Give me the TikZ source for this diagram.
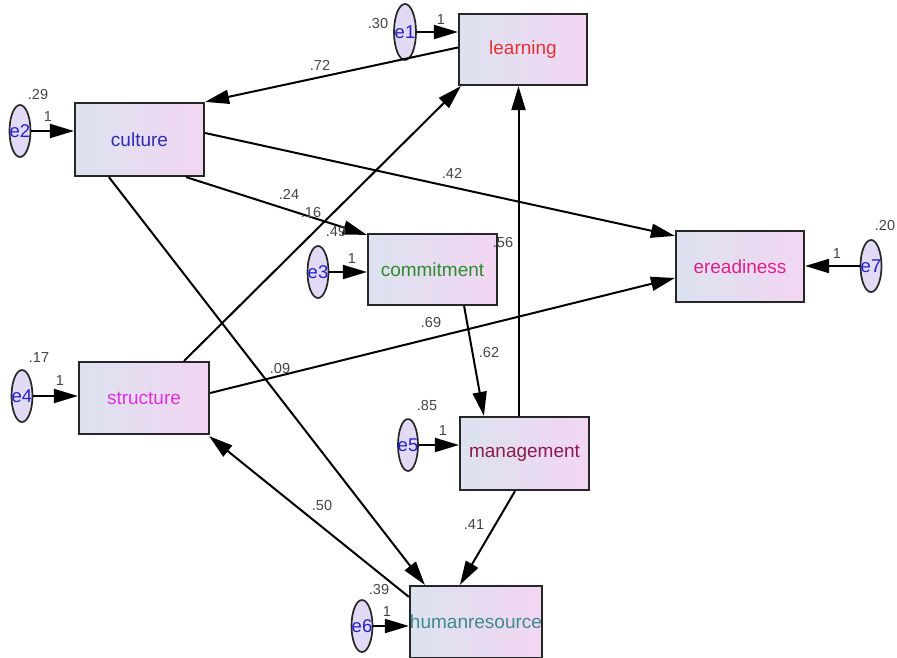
\documentclass[tikz,border=0pt]{standalone}
\usepackage{fontspec}
\setmainfont{Liberation Sans}
\usetikzlibrary{shapes.geometric,arrows.meta}
\definecolor{boxL}{HTML}{DCE2EF}
\definecolor{boxR}{HTML}{F2D6F2}
\definecolor{ellfill}{HTML}{E2DAF4}
\definecolor{eblue}{HTML}{2222CC}
\definecolor{numgray}{HTML}{444444}
\definecolor{cLearn}{HTML}{E53035}
\definecolor{cCult}{HTML}{2D2DB0}
\definecolor{cComm}{HTML}{2E8B2E}
\definecolor{cEread}{HTML}{E0208A}
\definecolor{cStruct}{HTML}{E030E0}
\definecolor{cMan}{HTML}{8B1A50}
\definecolor{cHR}{HTML}{3F8A8A}
\begin{document}
\begin{tikzpicture}[x=1pt,y=-1pt,
  box/.style={rectangle,draw=black!85,line width=2.2pt,left color=boxL,right color=boxR,
    minimum width=129pt,minimum height=72pt,inner sep=0pt,font=\fontsize{19}{19}\selectfont},
  err/.style={ellipse,draw=black!85,line width=1.7pt,fill=ellfill,minimum width=21pt,
    minimum height=52pt,inner sep=0pt},
  elab/.style={inner sep=0pt,text=eblue,font=\fontsize{18.5}{18.5}\selectfont},
  num/.style={inner sep=0pt,text=numgray,font=\fontsize{14.5}{14.5}\selectfont},
  arr/.style={line width=2pt,draw=black,-{Triangle[length=24pt,width=14pt]}}
]
\useasboundingbox (0,0) rectangle (897,658);
\clip (0,0) rectangle (897,658);
\fill[white] (0,0) rectangle (897,658);

% boxes
\node[box,text=cLearn,minimum width=128pt,minimum height=71pt] (learning) at (523,49.5) {learning};
\node[box,text=cCult,minimum height=73pt] (culture) at (139.5,139.5) {culture};
\node[box,text=cComm,minimum height=71pt] (commitment) at (432.5,269.5) {commitment};
\node[box,text=cEread,minimum width=128pt,minimum height=71pt] (ereadiness) at (740,266.5) {ereadiness};
\node[box,text=cStruct,minimum width=130pt] (structure) at (144,398) {structure};
\node[box,text=cMan,minimum height=73pt] (management) at (524.5,453.5) {management};
\node[box,text=cHR,minimum width=130pt] (humanresource) at (476,622) {humanresource};

% error ellipses
\node[err,minimum width=22pt,minimum height=56pt] (e1) at (405,32) {};
\node[err] (e2) at (20,131) {};
\node[err] (e3) at (318,272) {};
\node[err] (e7) at (871,266) {};
\node[err] (e4) at (22,396) {};
\node[err,minimum width=20pt] (e5) at (408,445) {};
\node[err] (e6) at (362,626) {};
\node[elab] (l1) at (e1) {e1};
\node[elab] (l2) at (e2) {e2};
\node[elab] (l3) at (e3) {e3};
\node[elab] (l7) at (e7) {e7};
\node[elab] (l4) at (e4) {e4};
\node[elab] (l5) at (e5) {e5};
\node[elab] (l6) at (e6) {e6};

% error arrows
\draw[arr] (e1.east) -- (e1.east -| learning.west);
\draw[arr] (e2.east) -- (e2.east -| culture.west);
\draw[arr] (e3.east) -- (e3.east -| commitment.west);
\draw[arr] (e7.west) -- (e7.west -| ereadiness.east);
\draw[arr] (e4.east) -- (e4.east -| structure.west);
\draw[arr] (e5.east) -- (e5.east -| management.west);
\draw[arr] (e6.east) -- (e6.east -| humanresource.west);

% structural paths
\draw[arr] ([yshift=2pt]learning.west) -- (culture.north east);
\draw[arr] ([yshift=6.5pt]culture.east) -- ([yshift=-6pt]ereadiness.north west);
\draw[arr] ([xshift=-19pt]culture.south east) -- ([yshift=-2pt]commitment.north west);
\draw[arr] ([xshift=35pt]culture.south west) -- ([xshift=16pt]humanresource.north west);
\draw[arr] ([xshift=-26pt]structure.north east) -- ([xshift=3pt]learning.south west);
\draw[arr] ([yshift=5pt]structure.east) -- ([yshift=-11.5pt]ereadiness.west);
\draw[arr] ([xshift=-34pt]commitment.south east) -- ([xshift=25pt]management.north west);
\draw[arr] ([xshift=-6pt]management.north) -- ([xshift=-6pt]management.north |- learning.south);
\draw[arr] ([xshift=-9.5pt]management.south) -- ([xshift=51pt]humanresource.north west);
\draw[arr] ([yshift=-12pt]humanresource.north west) -- ([xshift=-1pt,yshift=-1pt]structure.south east);

% variance labels
\node[num] (v1) at (378,24) {.30};
\node[num] (w1) at (441,20) {1};
\node[num] (v2) at (38,95) {.29};
\node[num] (w2) at (48,117) {1};
\node[num] (v3) at (336,232) {.49};
\node[num] (w3) at (352,259) {1};
\node[num] (v7) at (885,226) {.20};
\node[num] (w7) at (837,254) {1};
\node[num] (v4) at (39,358) {.17};
\node[num] (w4) at (60,381) {1};
\node[num] (v5) at (427,406) {.85};
\node[num] (w5) at (443,431) {1};
\node[num] (v6) at (379,590) {.39};
\node[num] (w6) at (387,612) {1};

% path labels
\node[num] (p72) at (320,65) {.72};
\node[num] (p42) at (452,173) {.42};
\node[num] (p24) at (289,194) {.24};
\node[num] (p16) at (311,213) {.16};
\node[num] (p56) at (503,243) {.56};
\node[num] (p69) at (431,323) {.69};
\node[num] (p62) at (489,353) {.62};
\node[num] (p09) at (280,369) {.09};
\node[num] (p50) at (322,506) {.50};
\node[num] (p41) at (474,525) {.41};
\end{tikzpicture}
\end{document}
